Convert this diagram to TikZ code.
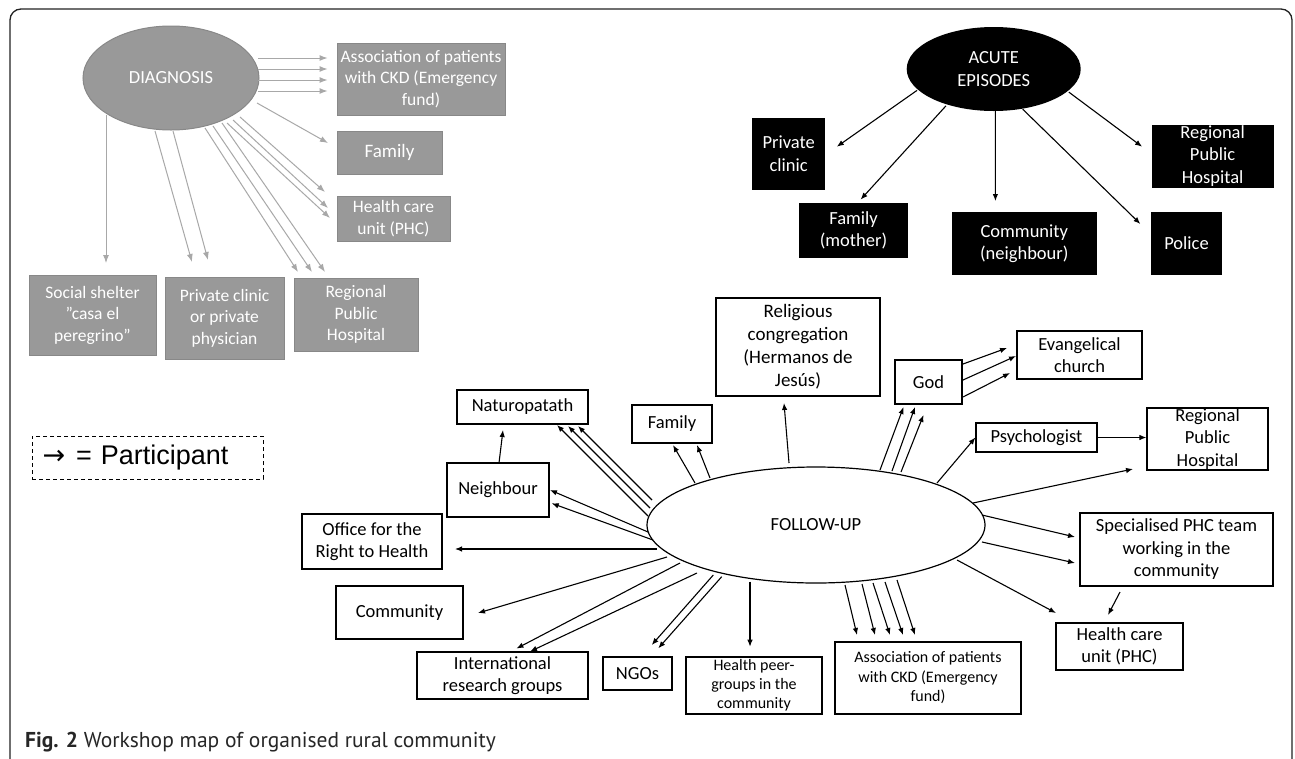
\documentclass[tikz,border=0pt]{standalone}
\usepackage{fontspec}
\setmainfont{Carlito}
\newfontfamily\legendfont{Liberation Sans}
\newfontfamily\arrowfont{DejaVu Sans}
\newfontfamily\capfont{PT Sans}
\usetikzlibrary{shapes.geometric,arrows.meta}
\definecolor{dgfill}{HTML}{999999}
\definecolor{dgedge}{HTML}{888888}
\definecolor{dgarrow}{HTML}{A8A8A8}
\definecolor{framecol}{HTML}{222222}
\begin{document}
\begin{tikzpicture}[x=1pt,y=-1pt,
  txt/.style={font=\fontsize{18.5}{22.5}\selectfont, align=center, inner sep=0pt},
  sz/.style 2 args={minimum width=#1pt, minimum height=#2pt},
  dgbox/.style={txt, rectangle, fill=dgfill, draw=dgedge, line width=1pt, text=white, font=\fontsize{17.5}{21.5}\selectfont},
  aebox/.style={txt, rectangle, fill=black, text=white},
  fubox/.style={txt, rectangle, draw=black, line width=1.2pt, fill=white},
  garr/.style={draw=dgarrow, line width=1pt, -{Latex[length=8pt,width=6pt]}},
  barr/.style={draw=black, line width=1.1pt, -{Latex[length=7pt,width=5.5pt]}},
]
\useasboundingbox (0,0) rectangle (1295,758);
\clip (0,0) rectangle (1295,758);
\fill[white] (0,0) rectangle (1295,758);
\draw[framecol, line width=1.3pt, rounded corners=11pt] (10,9) rectangle (1292,775);

% ---------------- DIAGNOSIS ----------------
\node[txt, ellipse, fill=dgfill, draw=dgedge, line width=1pt, text=white, sz={176}{104}, font=\fontsize{18.5}{22}\selectfont] (dg) at (171,78) {DIAGNOSIS};
\node[dgbox, sz={168}{72}] (dAss) at (421,79) {Association of patients\\with CKD (Emergency\\fund)};
\node[dgbox, sz={105}{43}, font=\fontsize{19}{22}\selectfont] (dFam) at (389.5,152.5) {Family};
\node[dgbox, sz={113}{45}] (dHcu) at (393.5,218.5) {Health care\\unit (PHC)};
\node[dgbox, sz={127}{80}] (dShel) at (92.5,315) {Social shelter\\”casa el\\peregrino”};
\node[dgbox, sz={119}{82}] (dPriv) at (224.5,318) {Private clinic\\or private\\physician};
\node[dgbox, sz={124}{73}] (dReg) at (356,314.5) {Regional\\Public\\Hospital};

\foreach \a/\b in {-20/-21,-9/-10,2/1,13/12}
  \draw[garr] ([shift={(87,\a)}]dg.center) -- ([shift={(-9,\b)}]dAss.west);
\draw[garr] ([shift={(86,25)}]dg.center) -- ([shift={(-61.5,-9.5)}]dFam.center);
\foreach \sx/\sy/\ex/\ey in {69/39/-68.5/-26.5, 62/42/-65.5/-10.5, 56/45/-63.5/-0.5}
  \draw[garr] ([shift={(\sx,\sy)}]dg.center) -- ([shift={(\ex,\ey)}]dHcu.center);
\foreach \sx/\sy/\ex/\ey in {34/50/-58/-42.5, 42/48/-44/-42.5, 51/45/-31/-42.5}
  \draw[garr] ([shift={(\sx,\sy)}]dg.center) -- ([shift={(\ex,\ey)}]dReg.center);
\foreach \sx/\sy/\ex/\ey in {-16/53/-32.5/-56, 2/53/-16.5/-58}
  \draw[garr] ([shift={(\sx,\sy)}]dg.center) -- ([shift={(\ex,\ey)}]dPriv.center);
\draw[garr] ([shift={(-65,37)}]dg.center) -- ([shift={(13.5,-52)}]dShel.center);

% ---------------- ACUTE EPISODES ----------------
\node[txt, ellipse, fill=black, text=white, sz={174}{84}] (ae) at (993.7,69) {ACUTE\\EPISODES};
\node[aebox, sz={73}{72}] (aPriv) at (788.7,153.5) {Private\\clinic};
\node[aebox, sz={109}{55}] (aFam) at (853.5,230.5) {Family\\(mother)};
\node[aebox, sz={145}{63}] (aCom) at (1024.3,243.5) {Community\\(neighbour)};
\node[aebox, sz={71}{63}] (aPol) at (1186.5,243.5) {Police};
\node[aebox, sz={122}{63}] (aReg) at (1212.6,156) {Regional\\Public\\Hospital};

\draw[barr] ([shift={(-76.7,21.4)}]ae.center) -- ([shift={(48.1,-6.8)}]aPriv.center);
\draw[barr] ([shift={(-47.7,36.8)}]ae.center) -- ([shift={(7.1,-30.9)}]aFam.center);
\draw[barr] ([shift={(1.7,41.9)}]ae.center) -- ([shift={(-28.9,-42.5)}]aCom.center);
\draw[barr] ([shift={(29,40.2)}]ae.center) -- ([shift={(-46.1,-19.5)}]aPol.center);
\draw[barr] ([shift={(75.1,23.1)}]ae.center) -- ([shift={(-70.5,-9.3)}]aReg.center);

% ---------------- LEGEND ----------------
\node[draw=black, line width=1pt, dash pattern=on 4pt off 3pt, sz={231}{43}, text width=210pt, inner xsep=10.5pt, inner ysep=0pt, align=left, font=\legendfont\fontsize{27}{30}\selectfont] (leg) at (147.5,457.5) {{\arrowfont →}\hspace{2pt} = Participant};

% ---------------- FOLLOW-UP ----------------
\node[txt, ellipse, draw=black, line width=1.2pt, fill=white, sz={338}{116}] (fu) at (816,525) {FOLLOW-UP};
\node[fubox, sz={164}{98}, font=\fontsize{19}{23}\selectfont] (fRel) at (798,347) {Religious\\congregation\\(Hermanos de\\Jesús)};
\node[fubox, sz={131}{34}] (fNat) at (522.5,407) {Naturopatath};
\node[fubox, sz={80}{38}] (fFam) at (672,424) {Family};
\node[fubox, sz={102}{54}] (fNei) at (498,490) {Neighbour};
\node[fubox, sz={140}{55}] (fOff) at (372,541.5) {Office for the\\Right to Health};
\node[fubox, sz={127}{53}] (fCom) at (399.5,612.5) {Community};
\node[fubox, sz={171}{47}] (fInt) at (502.5,675.5) {International\\research groups};
\node[fubox, sz={69}{33}] (fNgo) at (637.5,673.5) {NGOs};
\node[fubox, sz={136}{57}, font=\fontsize{16}{19}\selectfont] (fPeer) at (754,685.5) {Health peer-\\groups in the\\community};
\node[fubox, sz={186}{72}, font=\fontsize{16}{19.5}\selectfont] (fAss) at (928,678) {Association of patients\\with CKD (Emergency\\fund)};
\node[fubox, sz={67}{44}] (fGod) at (928.5,382) {God};
\node[fubox, sz={125}{48}] (fEva) at (1079.5,355) {Evangelical\\church};
\node[fubox, sz={121}{29}] (fPsy) at (1036.5,437.5) {Psychologist};
\node[fubox, sz={121}{62}] (fReg) at (1207.5,439) {Regional\\Public\\Hospital};
\node[fubox, sz={193}{73}] (fSpe) at (1176.5,549.5) {Specialised PHC team\\working in the\\community};
\node[fubox, sz={127}{47}] (fHcu) at (1119.5,646.5) {Health care\\unit (PHC)};

\foreach \sx/\sy/\ex/\ey in {-168/-9/34.5/18, -166/-17/45.5/19, -164/-25/55.5/19}
  \draw[barr] ([shift={(\sx,\sy)}]fu.center) -- ([shift={(\ex,\ey)}]fNat.center);
\foreach \sx/\sy/\ex/\ey in {-168/7/52/0, -163/15/53.7/13.3}
  \draw[barr] ([shift={(\sx,\sy)}]fu.center) -- ([shift={(\ex,\ey)}]fNei.center);
\draw[barr] ([shift={(1,-27)}]fNei.center) -- ([shift={(-19.5,23)}]fNat.center);
\draw[barr] ([shift={(-159,24)}]fu.center) -- ([shift={(83,7.5)}]fOff.center);
\draw[barr] ([shift={(-149,32)}]fu.center) -- ([shift={(78.5,0.5)}]fCom.center);
\foreach \sx/\sy/\ex/\ey in {-136/38/14/-27, -119/48/27.5/-24}
  \draw[barr] ([shift={(\sx,\sy)}]fu.center) -- ([shift={(\ex,\ey)}]fInt.center);
\foreach \sx/\sy/\ex/\ey in {-102.7/50/14.2/-28.5, -94.3/51.7/20.8/-25.2}
  \draw[barr] ([shift={(\sx,\sy)}]fu.center) -- ([shift={(\ex,\ey)}]fNgo.center);
\draw[barr] ([shift={(-66,56.7)}]fu.center) -- ([shift={(-4,-38.8)}]fPeer.center);
\foreach \sx/\sy/\ex in {29/60/-71, 46/59/-53, 57/58/-38, 69/57/-25, 81/55/-13}
  \draw[barr] ([shift={(\sx,\sy)}]fu.center) -- ([shift={(\ex,-43)}]fAss.center);
\foreach \sx/\sy/\ex in {-121/-42/1, -106/-47/25}
  \draw[barr] ([shift={(\sx,\sy)}]fu.center) -- ([shift={(\ex,21)}]fFam.center);
\draw[barr] ([shift={(-27,-62)}]fu.center) -- ([shift={(-14,56)}]fRel.center);
\foreach \sx/\sy/\ex/\ey in {64/-55/-25/25, 76/-54/-13.5/25, 85/-53/-5/33}
  \draw[barr] ([shift={(\sx,\sy)}]fu.center) -- ([shift={(\ex,\ey)}]fGod.center);
\foreach \sy/\ex/\ey in {-18/-72.5/-7, -2/-63.5/1, 15/-69.5/18}
  \draw[barr] ([shift={(34.5,\sy)}]fGod.center) -- ([shift={(\ex,\ey)}]fEva.center);
\draw[barr] ([shift={(121,-42)}]fu.center) -- (fPsy.west);
\draw[barr] (fPsy.east) -- (fPsy.east -| fReg.west);
\draw[barr] ([shift={(157,-22)}]fu.center) -- ([shift={(-74.5,30)}]fReg.center);
\foreach \sy/\ey in {-10/-12.5, 17/13.5}
  \draw[barr] ([shift={(166,\sy)}]fu.center) -- ([shift={(-101.5,\ey)}]fSpe.center);
\draw[barr] ([shift={(141,35)}]fu.center) -- ([shift={(-63.5,-33.5)}]fHcu.center);
\draw[barr] ([shift={(-56.5,42.5)}]fSpe.center) -- ([shift={(-11.5,-31.5)}]fHcu.center);

% ---------------- CAPTION ----------------
\node[anchor=base west, inner sep=0pt, text=black!85, font=\capfont\fontsize{21.5}{24}\selectfont] (cap) at (25,747) {\textbf{Fig. 2} Workshop map of organised rural community};
\end{tikzpicture}
\end{document}
